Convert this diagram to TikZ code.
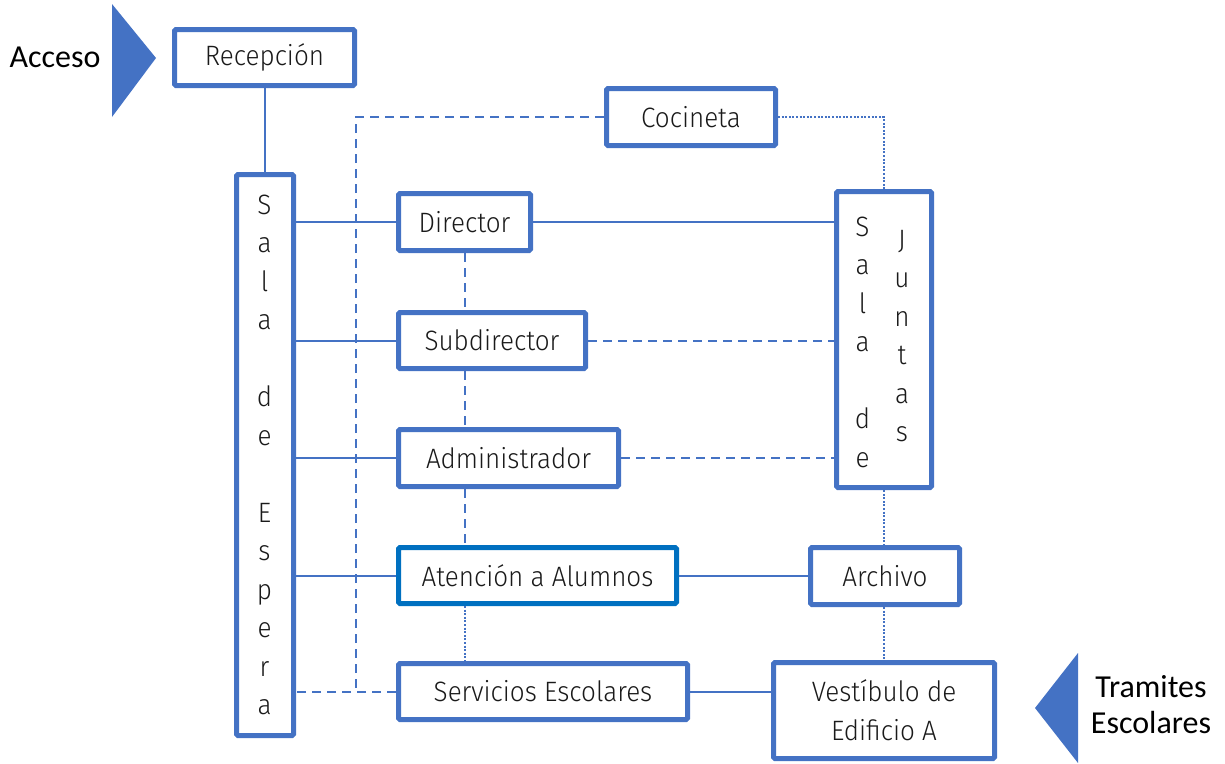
\documentclass[tikz,border=0pt]{standalone}
\usepackage{fontspec}
\setmainfont{Fira Sans Light}[FakeStretch=0.93]
\newfontfamily\labelfont{Carlito}
\definecolor{bl}{HTML}{4472C4}
\definecolor{bl2}{HTML}{0070C0}
\definecolor{tx}{HTML}{1A1A1A}
\begin{document}
\begin{tikzpicture}[x=1pt,y=-1pt,
 box/.style={draw=bl,line width=5pt,rounded corners=1.5pt,fill=white,inner sep=0pt,text=tx,font=\fontsize{28}{33}\selectfont,align=center},
 vtext/.style={text=tx,inner sep=0pt,align=center,font=\fontsize{28}{38.5}\selectfont},
 link/.style={draw=bl,line width=2pt},
 dsh/.style={link,dash pattern=on 9pt off 6pt},
 dott/.style={draw=bl,line width=2pt,dash pattern=on 2pt off 1.6pt},
 lbl/.style={text=black,inner sep=0pt,align=center,font=\labelfont\fontsize{32}{36}\selectfont},
 ]
\useasboundingbox (0,0) rectangle (1225,763);
% boxes
\node[box,minimum width=180pt,minimum height=56pt] (rec) at (264.5,57.5) {Recepción};
\node[box,minimum width=169pt,minimum height=57pt] (coc) at (691,117) {Cocineta};
\node[box,minimum width=57pt,minimum height=561pt] (esp) at (265,455) {};
\node[vtext] (espt) at (264.5,455) {S\\a\\l\\a\\\mbox{}\\d\\e\\\mbox{}\\E\\s\\p\\e\\r\\a};
\node[box,minimum width=132pt,minimum height=57pt] (dir) at (464.5,222) {Director};
\node[box,minimum width=187pt,minimum height=56pt] (sub) at (492,340.5) {Subdirector};
\node[box,minimum width=220pt,minimum height=57pt] (adm) at (508.5,458) {Administrador};
\node[box,draw=bl2,minimum width=278pt,minimum height=56pt] (ate) at (537.5,575.5) {Atención a Alumnos};
\node[box,minimum width=289pt,minimum height=56pt] (ser) at (543,691.5) {Servicios Escolares};
\node[box,minimum width=95pt,minimum height=296pt] (jun) at (884,339.5) {};
\node[vtext] (junl) at (862.5,342) {S\\a\\l\\a\\\mbox{}\\d\\e};
\node[vtext] (junr) at (902,336) {J\\u\\n\\t\\a\\s};
\node[box,minimum width=149pt,minimum height=57pt] (arc) at (885,576) {Archivo};
\node[box,minimum width=221pt,minimum height=96pt,font=\fontsize{28}{39}\selectfont] (ves) at (884,710.5) {Vestíbulo de\\Edificio A};
% access labels
\fill[bl] (112,4) -- (156,58) -- (112,117) -- cycle;
\node[lbl] (acc) at (55,57) {Acceso};
\fill[bl] (1078,653) -- (1035,708) -- (1078,763) -- cycle;
\node[lbl] (tra) at (1151,705) {Tramites\\Escolares};
% connectors
\draw[link] (rec.south) -- (rec.south |- esp.north);
\draw[link] (dir.west) -- (dir.west -| esp.east);
\draw[link] (sub.west) -- (sub.west -| esp.east);
\draw[link] (adm.west) -- (adm.west -| esp.east);
\draw[link] (ate.west) -- (ate.west -| esp.east);
\draw[dsh] (ser.west) -- (ser.west -| esp.east);
\coordinate (dj) at (356,691.5);
\draw[dsh] (coc.west) -| (dj);
\draw[dott] (coc.east) -| (jun.north);
\draw[link] (dir.east) -- (dir.east -| jun.west);
\draw[dsh] (dir.south) -- (dir.south |- sub.north);
\draw[dsh] (dir.south |- sub.south) -- (dir.south |- adm.north);
\draw[dsh] (dir.south |- adm.south) -- (dir.south |- ate.north);
\draw[dott] (dir.south |- ate.south) -- (dir.south |- ser.north);
\draw[dsh] (sub.east) -- (sub.east -| jun.west);
\draw[dsh] (adm.east) -- (adm.east -| jun.west);
\draw[dott] (jun.south) -- (jun.south |- arc.north);
\draw[dott] (arc.south -| jun.south) -- (jun.south |- ves.north);
\draw[link] (ate.east) -- (ate.east -| arc.west);
\draw[link] (ser.east) -- (ser.east -| ves.west);
\end{tikzpicture}
\end{document}
